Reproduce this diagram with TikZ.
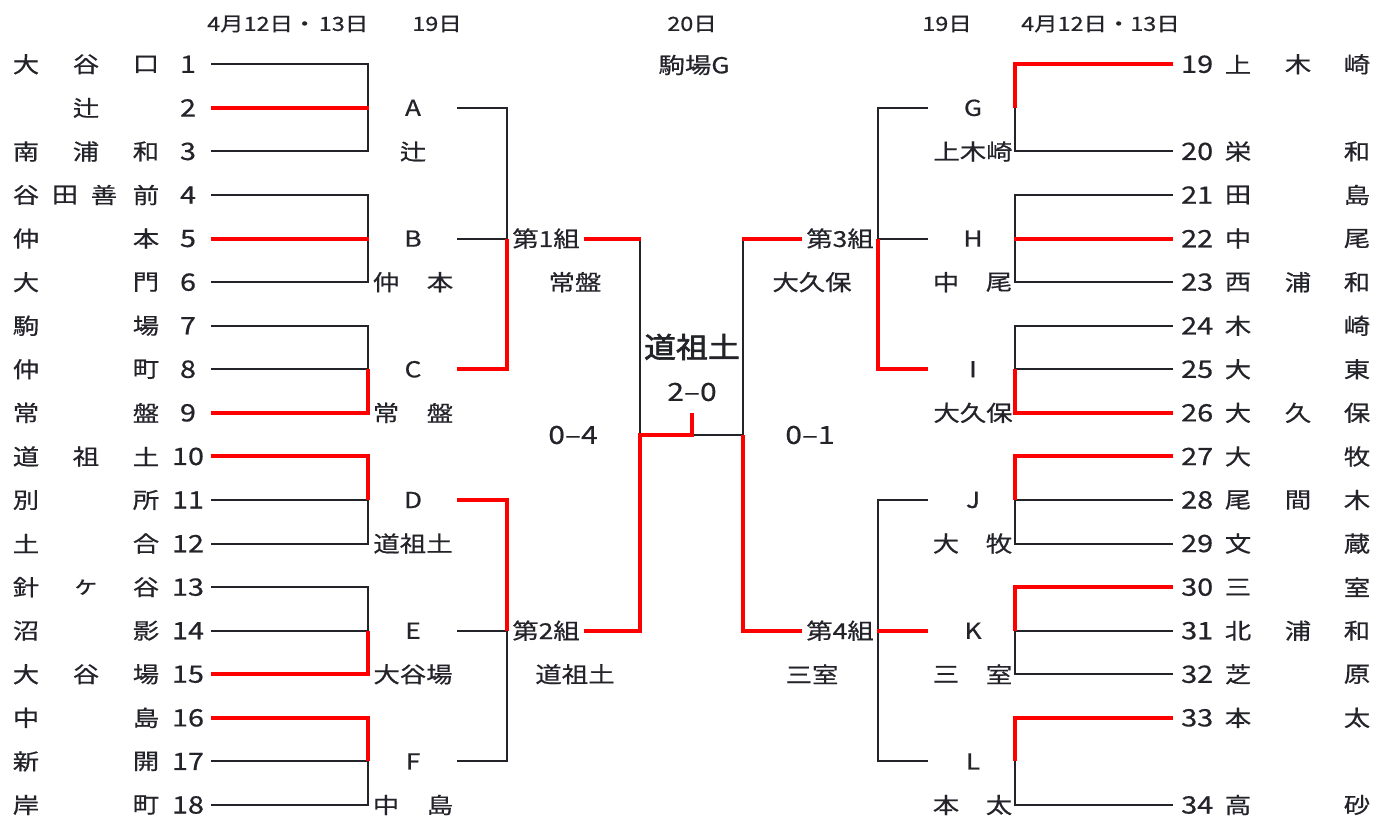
\documentclass[tikz,border=0pt]{standalone}
\usepackage{fontspec}
\setmainfont[FakeStretch=1.2,FakeBold=0.6]{Noto Sans CJK JP}
\newfontfamily\jpbold[FakeStretch=1.12,FakeBold=2.2]{Noto Sans CJK JP}
\definecolor{ink}{RGB}{35,35,42}
\definecolor{win}{RGB}{255,0,0}
\newcommand\Y[1]{64.3+(#1-1)*43.57}
\def\Ymid{434.7}
\newcommand\LT[3]{%
  \node[num] (ln#1) at (188,{\Y{#1}}) {#2};
  \foreach \xx/\cc [count=\k] in {#3} {\node[tx] (lt#1-\k) at (\xx,{\Y{#1}}) {\cc};}}
\newcommand\RT[3]{%
  \node[num,anchor=west] (rn#1) at (1181,{\Y{#1}}) {#2};
  \foreach \xx/\cc [count=\k] in {#3} {\node[tx] (rt#1-\k) at (\xx,{\Y{#1}}) {\cc};}}
\begin{document}
\begin{tikzpicture}[x=1pt,y=-1pt,
  ln/.style={draw=ink,line width=2pt},
  rd/.style={draw=win,line width=4pt},
  tx/.style={text=ink,inner sep=0pt,font=\fontsize{22}{24}\selectfont},
  num/.style={text=ink,inner sep=0pt,font=\fontsize{24}{24}\selectfont},
  hd/.style={text=ink,inner sep=0pt,font=\fontsize{19.5}{20}\selectfont},
  sc/.style={text=ink,inner sep=0pt,font=\fontsize{25}{26}\selectfont},
  big/.style={text=ink,inner sep=0pt,font=\fontsize{28.5}{30}\jpbold}]
\useasboundingbox (0,0) rectangle (1386,816);

% ---------- headers ----------
\begin{scope}
  \clip (200,0) rectangle (367,50);
  \node[hd,anchor=west] (hl1) at (207,24) {4月12日・\hspace{2.5pt}13日};
\end{scope}
\node[hd] (hl2) at (437,24) {19日};
\node[hd] (hc) at (692,24) {20日};
\node[tx] (venue) at (694,65) {駒場G};
\node[hd] (hr2) at (947,24) {19日};
\node[hd,anchor=west] (hr1) at (1021,24) {4月12日・13日};

% ---------- left first round (black) ----------
\foreach \a in {1,4,7,10,13,16} {
  \pgfmathtruncatemacro\b{\a+1}\pgfmathtruncatemacro\c{\a+2}
  \draw[ln] (211,{\Y{\a}}) -| (368,{\Y{\c}}) -- (211,{\Y{\c}});
  \draw[ln] (211,{\Y{\b}}) -- (368,{\Y{\b}});
}
% ---------- left first round (red) ----------
\draw[rd] (211,{\Y{2}}) -- (369,{\Y{2}});
\draw[rd] (211,{\Y{5}}) -- (369,{\Y{5}});
\draw[rd] (211,{\Y{9}}) -| (368,{\Y{8}});
\draw[rd] (211,{\Y{10}}) -| (368,{\Y{11}});
\draw[rd] (211,{\Y{15}}) -| (368,{\Y{14}});
\draw[rd] (211,{\Y{16}}) -| (368,{\Y{17}});

% ---------- right first round (black) ----------
\draw[ln] (1173,{\Y{1}}) -| (1015,{\Y{3}}) -- (1173,{\Y{3}});
\foreach \a in {4,7,10,13} {
  \pgfmathtruncatemacro\b{\a+1}\pgfmathtruncatemacro\c{\a+2}
  \draw[ln] (1173,{\Y{\a}}) -| (1015,{\Y{\c}}) -- (1173,{\Y{\c}});
  \draw[ln] (1173,{\Y{\b}}) -- (1015,{\Y{\b}});
}
\draw[ln] (1173,{\Y{16}}) -| (1015,{\Y{18}}) -- (1173,{\Y{18}});
% ---------- right first round (red) ----------
\draw[rd] (1173,{\Y{1}}) -| (1015,{\Y{2}});
\draw[rd] (1173,{\Y{5}}) -- (1014,{\Y{5}});
\draw[rd] (1173,{\Y{9}}) -| (1015,{\Y{8}});
\draw[rd] (1173,{\Y{10}}) -| (1015,{\Y{11}});
\draw[rd] (1173,{\Y{13}}) -| (1015,{\Y{14}});
\draw[rd] (1173,{\Y{16}}) -| (1015,{\Y{17}});

% ---------- second round ----------
\draw[ln] (457,{\Y{2}}) -| (507,{\Y{8}}) -- (457,{\Y{8}});
\draw[ln] (457,{\Y{5}}) -- (507,{\Y{5}});
\draw[ln] (457,{\Y{11}}) -| (507,{\Y{17}}) -- (457,{\Y{17}});
\draw[ln] (457,{\Y{14}}) -- (507,{\Y{14}});
\draw[ln] (928,{\Y{2}}) -| (878,{\Y{8}}) -- (928,{\Y{8}});
\draw[ln] (928,{\Y{5}}) -- (878,{\Y{5}});
\draw[ln] (928,{\Y{11}}) -| (878,{\Y{17}}) -- (928,{\Y{17}});
\draw[ln] (928,{\Y{14}}) -- (878,{\Y{14}});
\draw[rd] (457,{\Y{8}}) -| (507,{\Y{5}});
\draw[rd] (457,{\Y{11}}) -| (507,{\Y{14}});
\draw[rd] (928,{\Y{8}}) -| (878,{\Y{5}});
\draw[rd] (928,{\Y{14}}) -- (877,{\Y{14}});

% ---------- semifinals and final ----------
\draw[ln] (640,{\Y{5}}) -- (640,\Ymid);
\draw[ln] (692,\Ymid) -- (743,\Ymid);
\draw[ln] (743,{\Y{5}}) -- (743,\Ymid);
\draw[rd] (584,{\Y{5}}) -- (641,{\Y{5}});
\draw[rd] (584,{\Y{14}}) -- (640,{\Y{14}}) -- (640,\Ymid) -- (692,\Ymid) -- (692,413);
\draw[rd] (802,{\Y{5}}) -- (742,{\Y{5}});
\draw[rd] (802,{\Y{14}}) -- (743,{\Y{14}}) -- (743,\Ymid);

% ---------- left teams ----------
\LT{1}{1}{26/大,86/谷,146/口}
\LT{2}{2}{86/辻}
\LT{3}{3}{26/南,86/浦,146/和}
\LT{4}{4}{26/谷,65/田,104/善,146/前}
\LT{5}{5}{26/仲,146/本}
\LT{6}{6}{26/大,146/門}
\LT{7}{7}{26/駒,146/場}
\LT{8}{8}{26/仲,146/町}
\LT{9}{9}{26/常,146/盤}
\LT{10}{10}{26/道,86/祖,146/土}
\LT{11}{11}{26/別,146/所}
\LT{12}{12}{26/土,146/合}
\LT{13}{13}{26/針,86/ヶ,146/谷}
\LT{14}{14}{26/沼,146/影}
\LT{15}{15}{26/大,86/谷,146/場}
\LT{16}{16}{26/中,146/島}
\LT{17}{17}{26/新,146/開}
\LT{18}{18}{26/岸,146/町}

% ---------- right teams ----------
\RT{1}{19}{1238/上,1298/木,1357/崎}
\RT{3}{20}{1238/栄,1357/和}
\RT{4}{21}{1238/田,1357/島}
\RT{5}{22}{1238/中,1357/尾}
\RT{6}{23}{1238/西,1298/浦,1357/和}
\RT{7}{24}{1238/木,1357/崎}
\RT{8}{25}{1238/大,1357/東}
\RT{9}{26}{1238/大,1298/久,1357/保}
\RT{10}{27}{1238/大,1357/牧}
\RT{11}{28}{1238/尾,1298/間,1357/木}
\RT{12}{29}{1238/文,1357/蔵}
\RT{13}{30}{1238/三,1357/室}
\RT{14}{31}{1238/北,1298/浦,1357/和}
\RT{15}{32}{1238/芝,1357/原}
\RT{16}{33}{1238/本,1357/太}
\RT{18}{34}{1238/高,1357/砂}

% ---------- group labels and winners ----------
\foreach \l/\r [count=\i] in {A/2,B/5,C/8,D/11,E/14,F/17} {\node[tx] (gl\i) at (413,{\Y{\r}}) {\l};}
\foreach \l/\r [count=\i] in {G/2,H/5,I/8,J/11,K/14,L/17} {\node[tx] (gr\i) at (973,{\Y{\r}}) {\l};}
\node[tx] (wA) at (413,{\Y{3}}) {辻};
\node[tx] (wB1) at (386,{\Y{6}}) {仲}; \node[tx] (wB2) at (440,{\Y{6}}) {本};
\node[tx] (wC1) at (386,{\Y{9}}) {常}; \node[tx] (wC2) at (440,{\Y{9}}) {盤};
\node[tx] (wD) at (413,{\Y{12}}) {道祖土};
\node[tx] (wE) at (413,{\Y{15}}) {大谷場};
\node[tx] (wF1) at (386,{\Y{18}}) {中}; \node[tx] (wF2) at (440,{\Y{18}}) {島};
\node[tx] (wG) at (973,{\Y{3}}) {上木崎};
\node[tx] (wH1) at (946,{\Y{6}}) {中}; \node[tx] (wH2) at (999,{\Y{6}}) {尾};
\node[tx] (wI) at (973,{\Y{9}}) {大久保};
\node[tx] (wJ1) at (946,{\Y{12}}) {大}; \node[tx] (wJ2) at (999,{\Y{12}}) {牧};
\node[tx] (wK1) at (946,{\Y{15}}) {三}; \node[tx] (wK2) at (999,{\Y{15}}) {室};
\node[tx] (wL1) at (946,{\Y{18}}) {本}; \node[tx] (wL2) at (999,{\Y{18}}) {太};

% ---------- pools ----------
\node[tx] (p1) at (546,{\Y{5}}) {第1組};
\node[tx] (p1w) at (575,{\Y{6}}) {常盤};
\node[tx] (p2) at (546,{\Y{14}}) {第2組};
\node[tx] (p2w) at (575,{\Y{15}}) {道祖土};
\node[tx] (p3) at (840,{\Y{5}}) {第3組};
\node[tx] (p3w) at (812,{\Y{6}}) {大久保};
\node[tx] (p4) at (840,{\Y{14}}) {第4組};
\node[tx] (p4w) at (812,{\Y{15}}) {三室};

% ---------- results ----------
\node[big] (champ) at (692,347) {道祖土};
\node[sc] (fs) at (692,392) {2–0};
\node[sc] (s1) at (573,435) {0–4};
\node[sc] (s2) at (810,435) {0–1};
\end{tikzpicture}
\end{document}
